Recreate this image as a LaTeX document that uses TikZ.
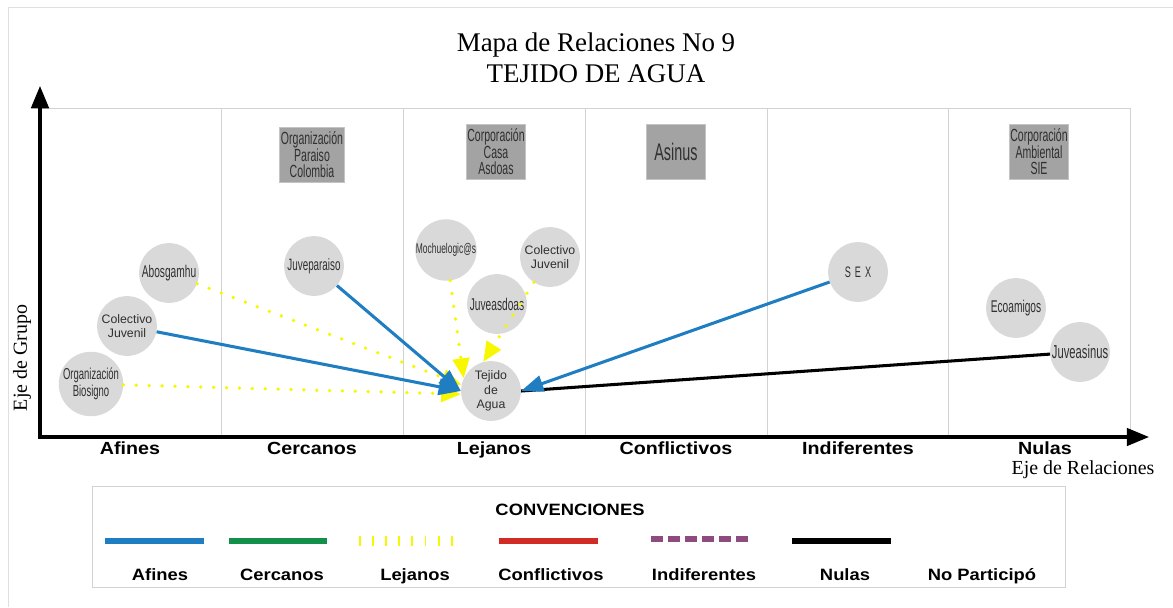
\documentclass[tikz,border=0pt]{standalone}
\usepackage{fontspec}
\setmainfont{Liberation Serif}
\setsansfont{Liberation Sans}
\newfontfamily\angosta[FakeStretch=0.6]{Liberation Sans}
\newfontfamily\ancha[FakeStretch=1.12]{Liberation Sans}
\usetikzlibrary{arrows.meta,positioning}

\definecolor{grisgrupo}{HTML}{D9D9D9}
\definecolor{grisentidad}{HTML}{A3A3A3}
\definecolor{bordeentidad}{HTML}{C4C4C4}
\definecolor{grisrejilla}{HTML}{D2D2D2}
\definecolor{textogrupo}{HTML}{303030}
\definecolor{azulafin}{HTML}{1F7EC1}
\definecolor{verdecercano}{HTML}{12904A}
\definecolor{amarillolejano}{HTML}{F7F700}
\definecolor{rojoconflicto}{HTML}{D12B26}
\definecolor{moradoindif}{HTML}{8E4B80}

\tikzset{
  grupo/.style={circle, fill=grisgrupo, text=textogrupo, minimum size=51pt, inner sep=0pt, align=center},
  entidad/.style={rectangle, fill=grisentidad, draw=bordeentidad, text=textogrupo, line width=0.8pt,
    minimum width=51pt, minimum height=47pt, inner sep=1pt, align=center},
  columna/.style={anchor=base, font=\ancha\bfseries\fontsize{15}{17}\selectfont},
  leyenda/.style={anchor=base, font=\ancha\bfseries\fontsize{14}{16}\selectfont},
}

\begin{document}
\begin{tikzpicture}[x=0.03cm, y=-0.03cm]
\useasboundingbox (0,0) rectangle (1173,607);
\draw[grisrejilla!70, line width=0.6pt] (8,607) -- (8,7) -- (1173,7);

% titulo
\node (titulo) [font=\fontsize{23}{26}\selectfont, align=center] at (596,58)
  {Mapa de Relaciones No 9\\TEJIDO DE AGUA};

% rejilla y ejes
\draw[grisrejilla, line width=0.6pt] (40,108) -- (1130,108)
  (221,108) -- (221,437) (403,108) -- (403,437) (585,108) -- (585,437)
  (767,108) -- (767,437) (948,108) -- (948,437) (1130,108) -- (1130,437);
\coordinate (origen) at (40,437);
\coordinate (ytope) at (40,86);
\coordinate (xfin) at (1149,437);
\draw[line width=2.6pt, {Triangle[length=19pt,width=15pt]}-{Triangle[length=19pt,width=15pt]}]
  (ytope) -- (origen) -- (xfin);

\node (afines) [columna] at (130,454) {Afines};
\node (cercanos) [columna] at (312,454) {Cercanos};
\node (lejanos) [columna] at (494,454) {Lejanos};
\node (conflictivos) [columna] at (676,454) {Conflictivos};
\node (indiferentes) [columna] at (858,454) {Indiferentes};
\node (nulas) [columna] at (1045,454) {Nulas};
\node (ejerel) [font=\fontsize{17}{19}\selectfont] at (1083,470) {Eje de Relaciones};
\node (ejegrupo) [font=\fontsize{17}{19}\selectfont, rotate=90] at (22,358) {Eje de Grupo};

% entidades
\begin{scope}[every node/.style={entidad, font=\angosta\fontsize{15}{14}\selectfont}]
  \node (paraiso) at (312,155) {Organización\\Paraiso\\Colombia};
  \node (casa) at (496,152) {Corporación\\Casa\\Asdoas};
  \node (asinus) [font=\angosta\fontsize{20.5}{21}\selectfont] at (676,152) {Asinus};
  \node (sie) at (1039,152) {Corporación\\Ambiental\\SIE};
\end{scope}

% grupos
\begin{scope}[every node/.style={grupo, font=\angosta\fontsize{14.5}{15}\selectfont}]
  \node (biosigno) [font=\angosta\fontsize{13.5}{15}\selectfont] at (91,384) {Organización\\Biosigno};
  \node (colectivoA) [font=\sffamily\fontsize{10.5}{12.5}\selectfont] at (127,326) {Colectivo\\Juvenil};
  \node (abosgamhu) at (169,273) {Abosgamhu};
  \node (juveparaiso) [font=\angosta\fontsize{14}{15}\selectfont] at (314,266) {Juveparaiso};
  \node (mochuelo) [font=\angosta\fontsize{12}{13}\selectfont] at (446,250) {Mochuelogic@s};
  \node (juveasdoas) at (497,304) {Juveasdoas};
  \node (colectivoB) [font=\sffamily\fontsize{10.5}{12.5}\selectfont] at (550,257) {Colectivo\\Juvenil};
  \node (tejido) [font=\sffamily\fontsize{10.5}{12.5}\selectfont] at (491,391) {Tejido\\de\\Agua};
  \node (sex) [font=\angosta\fontsize{13}{14}\selectfont] at (858,272) {S\hspace{3.5pt}E\hspace{3.5pt}X};
  \node (ecoamigos) at (1016,308) {Ecoamigos};
  \node (juveasinus) [font=\angosta\fontsize{16}{17}\selectfont] at (1080,352) {Juveasinus};
\end{scope}

% relaciones
\begin{scope}[every edge/.style={draw, line width=2.6pt}]
  \path (juveasinus) edge[black] (tejido.east);
  \path (abosgamhu) edge[amarillolejano, dash pattern=on 0pt off 11pt, line width=3.2pt, line cap=round,
    -{Triangle[length=17pt,width=14pt]}] (tejido.168);
  \path (biosigno) edge[amarillolejano, dash pattern=on 0pt off 11pt, line width=3.2pt, line cap=round,
    -{Triangle[length=17pt,width=14pt]}] (tejido.186);
  \path (mochuelo) edge[amarillolejano, dash pattern=on 0pt off 11pt, line width=3.2pt, line cap=round,
    -{Triangle[length=17pt,width=14pt]}] (tejido.155);
  \path (colectivoB) edge[amarillolejano, dash pattern=on 0pt off 11pt, line width=3.2pt, line cap=round,
    -{Triangle[length=17pt,width=14pt]}] (tejido.105);
  \path (colectivoA) edge[azulafin, -{Triangle[length=19pt,width=14pt]}] (tejido.west);
  \path (juveparaiso) edge[azulafin, -{Triangle[length=19pt,width=14pt]}] (tejido.west);
  \path (sex) edge[azulafin, -{Triangle[length=19pt,width=14pt]}] (tejido.east);
\end{scope}

% convenciones
\draw[grisrejilla, line width=0.6pt] (92,486) rectangle (1065,587);
\node (convenciones) [leyenda] at (570,515) {CONVENCIONES};
\draw[azulafin, line width=4.3pt] (105,541) -- (204,541);
\draw[verdecercano, line width=4.3pt] (229,541) -- (327,541);
\draw[amarillolejano, line width=9pt, dash pattern=on 1.6pt off 9.6pt] (359,541) -- (454,541);
\draw[rojoconflicto, line width=4.3pt] (499,541) -- (598,541);
\draw[moradoindif, line width=4.3pt, dash pattern=on 10pt off 4.5pt] (651,539) -- (750,539);
\draw[black, line width=4.3pt] (792,541) -- (891,541);
\node (lafines) [leyenda] at (160,580) {Afines};
\node (lcercanos) [leyenda] at (282,580) {Cercanos};
\node (llejanos) [leyenda] at (415,580) {Lejanos};
\node (lconflictivos) [leyenda] at (551,580) {Conflictivos};
\node (lindiferentes) [leyenda] at (704,580) {Indiferentes};
\node (lnulas) [leyenda] at (845,580) {Nulas};
\node (lnoparticipo) [leyenda] at (982,580) {No Participó};
\end{tikzpicture}
\end{document}
